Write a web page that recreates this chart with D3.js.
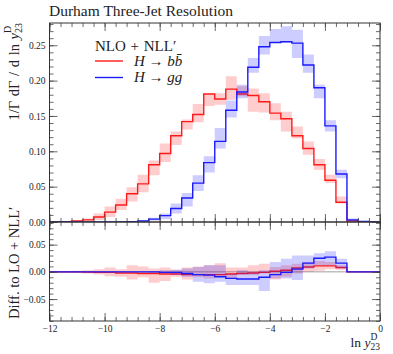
<!DOCTYPE html>
<html>
<head>
<meta charset="utf-8">
<script src="https://cdn.jsdelivr.net/npm/d3@7"></script>
<style>
body { margin: 0; background: #fff; }
svg text { font-family: "Liberation Serif", "DejaVu Serif", serif; fill: #222; }
</style>
</head>
<body>
<div id="chart"></div>
<script>
// Durham three-jet resolution, NLO + NLL' for H -> bb and H -> gg

// bin edges in ln y23
const binEdges = [-12.0, -11.6, -11.2, -10.8, -10.4, -10.0, -9.6, -9.2, -8.8, -8.4, -8.0,
    -7.6, -7.2, -6.8, -6.4, -6.0, -5.6, -5.2, -4.8, -4.4, -4.0,
    -3.6, -3.2, -2.8, -2.4, -2.0, -1.6, -1.2, -0.8, -0.4, 0.0];

// H -> bb (red)
const bbCentral = [0, 0.0003, 0.0014, 0.003, 0.007, 0.014, 0.024, 0.040, 0.054, 0.081, 0.097, 0.122, 0.142, 0.152, 0.181,
    0.174, 0.188, 0.181, 0.179, 0.170, 0.154, 0.146, 0.122, 0.104, 0.081, 0.059, 0.028, 0.0015, 0, 0];
const bbLow = [0, 0.0001, 0.0008, 0.002, 0.003, 0.007, 0.017, 0.029, 0.042, 0.066, 0.085, 0.109, 0.131, 0.141, 0.164,
    0.166, 0.173, 0.178, 0.156, 0.155, 0.144, 0.128, 0.118, 0.095, 0.074, 0.055, 0.026, 0.001, 0, 0];
const bbHigh = [0, 0.0005, 0.002, 0.005, 0.012, 0.022, 0.033, 0.049, 0.067, 0.087, 0.111, 0.128, 0.145, 0.167, 0.181,
    0.182, 0.206, 0.192, 0.189, 0.182, 0.168, 0.156, 0.135, 0.114, 0.089, 0.067, 0.036, 0.003, 0, 0];

// H -> gg (blue)
const ggCentral = [0, 0, 0, 0, 0, 0, 0.0002, 0.0005, 0.0014, 0.004, 0.009, 0.019, 0.034, 0.055, 0.084,
    0.114, 0.158, 0.184, 0.219, 0.248, 0.254, 0.255, 0.253, 0.222, 0.190, 0.136, 0.068, 0.003, 0.0008, 0];
const ggLow = [0, 0, 0, 0, 0, 0, 0.0001, 0.0003, 0.001, 0.002, 0.004, 0.012, 0.022, 0.044, 0.070,
    0.104, 0.148, 0.175, 0.211, 0.237, 0.254, 0.254, 0.232, 0.211, 0.175, 0.128, 0.062, 0.001, 0.0004, 0];
const ggHigh = [0, 0, 0, 0, 0, 0, 0.0004, 0.0008, 0.002, 0.006, 0.012, 0.026, 0.041, 0.066, 0.093,
    0.133, 0.172, 0.194, 0.232, 0.263, 0.273, 0.277, 0.272, 0.237, 0.194, 0.144, 0.074, 0.005, 0.0012, 0];

// difference to LO + NLL'
const bbDiff = [0, 0, 0, -0.0005, -0.001, -0.001, -0.002, -0.002, -0.003, -0.003, -0.004, -0.004, -0.005, -0.005, -0.005,
    -0.005, -0.004, -0.003, -0.002, -0.001, 0.001, 0.003, 0.007, 0.009, 0.011, 0.011, 0.008, 0, 0, 0];
const bbDiffLow = [0, -0.001, -0.002, -0.003, -0.005, -0.008, -0.009, -0.014, -0.010, -0.020, -0.017, -0.009, -0.014, -0.010, -0.012,
    -0.008, -0.012, -0.005, -0.006, -0.003, -0.014, -0.009, -0.003, 0.0, 0.002, 0.005, 0.004, 0, 0, 0];
const bbDiffHigh = [0, 0.001, 0.002, 0.003, 0.005, 0.008, 0.005, 0.012, 0.010, 0.006, 0.008, 0.004, 0.008, 0.010, 0.012,
    0.016, 0.008, 0.008, 0.012, 0.015, 0.009, 0.012, 0.015, 0.018, 0.020, 0.018, 0.012, 0, 0, 0];

const ggDiff = [0, 0, 0, 0, 0, 0, 0, 0, 0, 0, -0.001, -0.001, -0.003, -0.005, -0.006,
    -0.009, -0.012, -0.013, -0.013, -0.010, -0.005, -0.001, 0.005, 0.016, 0.025, 0.027, 0.016, 0, 0, 0];
const ggDiffLow = [0, 0, 0, 0, 0, 0, 0, 0, 0, -0.001, -0.003, -0.006, -0.009, -0.018, -0.021,
    -0.018, -0.024, -0.024, -0.024, -0.035, -0.012, -0.012, -0.015, 0.006, 0.012, 0.012, 0.006, 0, 0, 0];
const ggDiffHigh = [0, 0, 0, 0, 0, 0, 0, 0, 0, 0.001, 0.003, 0.004, 0.006, 0.009, 0.012,
    0.012, -0.003, 0.003, 0.0, 0.003, 0.018, 0.024, 0.030, 0.030, 0.034, 0.038, 0.024, 0, 0, 0];

const xTicks = [-12, -10, -8, -6, -4, -2, 0];
const mainTicks = [0, 0.05, 0.10, 0.15, 0.20, 0.25];
const diffTicks = [-0.05, 0, 0.05];

const red = '#ff1a1a';
const blue = '#1a1aff';

const width = 393, height = 354;
const left = 49.5, right = 380;
const mainTop = 23, mainBottom = 222, diffBottom = 321;

const svg = d3.select('#chart').append('svg')
    .attr('width', width)
    .attr('height', height);

const x = d3.scaleLinear().domain([-12, 0]).range([left, right]);
const yMain = d3.scaleLinear().domain([0, 0.2815]).range([mainBottom, mainTop]);
const yDiff = d3.scaleLinear().domain([-0.0903, 0.0916]).range([diffBottom, mainBottom]);

// clip paths
const defs = svg.append('defs');
defs.append('clipPath').attr('id', 'clipMain').append('rect')
    .attr('x', left).attr('y', mainTop).attr('width', right - left).attr('height', mainBottom - mainTop);
defs.append('clipPath').attr('id', 'clipDiff').append('rect')
    .attr('x', left).attr('y', mainBottom).attr('width', right - left).attr('height', diffBottom - mainBottom);

function binPoints(vals) {
    const pts = vals.map((v, i) => [binEdges[i], v]);
    pts.push([binEdges[binEdges.length - 1], vals[vals.length - 1]]);
    return pts;
}

function drawHist(g, yScale, central, low, high, color) {
    const bandPts = low.map((v, i) => ({e: binEdges[i], lo: v, hi: high[i]}));
    bandPts.push({e: binEdges[binEdges.length - 1], lo: low[low.length - 1], hi: high[high.length - 1]});
    const area = d3.area()
        .curve(d3.curveStepAfter)
        .x(d => x(d.e))
        .y0(d => yScale(d.lo))
        .y1(d => yScale(d.hi));
    g.append('path')
        .attr('d', area(bandPts))
        .attr('fill', color)
        .attr('fill-opacity', 0.22)
        .attr('stroke', 'none');

    const line = d3.line()
        .curve(d3.curveStepAfter)
        .x(d => x(d[0]))
        .y(d => yScale(d[1]));
    g.append('path')
        .attr('d', line(binPoints(central)))
        .attr('fill', 'none')
        .attr('stroke', color)
        .attr('stroke-width', 1.4);
}

// main panel
const mainG = svg.append('g').attr('clip-path', 'url(#clipMain)');
drawHist(mainG, yMain, bbCentral, bbLow, bbHigh, red);
drawHist(mainG, yMain, ggCentral, ggLow, ggHigh, blue);

// ratio panel
const diffG = svg.append('g').attr('clip-path', 'url(#clipDiff)');
diffG.append('line')
    .attr('x1', left).attr('x2', right)
    .attr('y1', yDiff(0)).attr('y2', yDiff(0))
    .attr('stroke', '#888').attr('stroke-width', 0.8);
drawHist(diffG, yDiff, bbDiff, bbDiffLow, bbDiffHigh, red);
drawHist(diffG, yDiff, ggDiff, ggDiffLow, ggDiffHigh, blue);

// axes helper
const major = 8, minor = 4;
const xMinor = d3.range(-12, 0.001, 0.4);
const yMainMinor = d3.range(0, 0.281, 0.01);
const yDiffMinor = d3.range(-0.09, 0.091, 0.01);

function addAxis(axisFn, scale, values, size, pos, labels, fmt, pad) {
    const ax = axisFn(scale).tickValues(values).tickSize(-size)
        .tickPadding(pad || 4)
        .tickFormat(labels ? fmt : '');
    const g = svg.append('g').attr('transform', pos).call(ax);
    g.select('.domain').remove();
    g.selectAll('line').attr('stroke', '#444').attr('stroke-width', 0.8);
    g.selectAll('text').attr('font-size', 9.5).attr('fill', '#333')
        .style('font-family', '"Liberation Serif", serif');
    return g;
}

const fmt2 = d3.format('.2f');
const fmtX = d3.format('d');

// main panel ticks
addAxis(d3.axisTop, x, xTicks, major, `translate(0,${mainTop})`, false);
addAxis(d3.axisTop, x, xMinor, minor, `translate(0,${mainTop})`, false);
addAxis(d3.axisBottom, x, xTicks, major, `translate(0,${mainBottom})`, false);
addAxis(d3.axisBottom, x, xMinor, minor, `translate(0,${mainBottom})`, false);
addAxis(d3.axisLeft, yMain, mainTicks, major, `translate(${left},0)`, true, fmt2, 4);
addAxis(d3.axisLeft, yMain, yMainMinor, minor, `translate(${left},0)`, false);
addAxis(d3.axisRight, yMain, mainTicks, major, `translate(${right},0)`, false);
addAxis(d3.axisRight, yMain, yMainMinor, minor, `translate(${right},0)`, false);

// ratio panel ticks
addAxis(d3.axisTop, x, xTicks, major, `translate(0,${mainBottom})`, false);
addAxis(d3.axisTop, x, xMinor, minor, `translate(0,${mainBottom})`, false);
addAxis(d3.axisBottom, x, xTicks, major, `translate(0,${diffBottom})`, true, fmtX, 4);
addAxis(d3.axisBottom, x, xMinor, minor, `translate(0,${diffBottom})`, false);
addAxis(d3.axisLeft, yDiff, diffTicks, major, `translate(${left},0)`, true, fmt2, 4);
addAxis(d3.axisLeft, yDiff, yDiffMinor, minor, `translate(${left},0)`, false);
addAxis(d3.axisRight, yDiff, diffTicks, major, `translate(${right},0)`, false);
addAxis(d3.axisRight, yDiff, yDiffMinor, minor, `translate(${right},0)`, false);

// frames
svg.append('rect')
    .attr('x', left).attr('y', mainTop)
    .attr('width', right - left).attr('height', mainBottom - mainTop)
    .attr('fill', 'none').attr('stroke', '#333').attr('stroke-width', 1);
svg.append('rect')
    .attr('x', left).attr('y', mainBottom)
    .attr('width', right - left).attr('height', diffBottom - mainBottom)
    .attr('fill', 'none').attr('stroke', '#333').attr('stroke-width', 1);

// title
svg.append('text')
    .attr('x', left - 0.5).attr('y', 16)
    .attr('font-size', 15.5)
    .text('Durham Three-Jet Resolution');

// legend
const legend = svg.append('g');
legend.append('text')
    .attr('x', 95).attr('y', 50.5)
    .attr('font-size', 15)
    .attr('word-spacing', 1)
    .text('NLO + NLL\u2032');
const legendItems = [
    {color: red, y: 61, parts: ['H', ' \u2192 ', 'b', 'b\u0304']},
    {color: blue, y: 77.5, parts: ['H', ' \u2192 ', 'g', 'g']}
];
legendItems.forEach(item => {
    legend.append('line')
        .attr('x1', 95).attr('x2', 123)
        .attr('y1', item.y).attr('y2', item.y)
        .attr('stroke', item.color).attr('stroke-width', 1.4);
    const t = legend.append('text')
        .attr('x', 134).attr('y', item.y + 4.8)
        .attr('font-size', 15);
    item.parts.forEach((p, i) => {
        t.append('tspan')
            .attr('font-style', i === 1 ? 'normal' : 'italic')
            .text(p);
    });
});

// y label, main panel
const yLab = svg.append('text')
    .attr('transform', `translate(19,${mainTop}) rotate(-90)`)
    .attr('text-anchor', 'end')
    .attr('font-size', 14.5)
    .attr('word-spacing', 1);
yLab.append('tspan').text('1/\u0393 d\u0393 / d ln ');
yLab.append('tspan').attr('font-style', 'italic').text('y');
yLab.append('tspan').attr('font-size', 10).attr('dy', 3).text('23');
yLab.append('tspan').attr('font-size', 10).attr('dx', -10).attr('dy', -11).text('D');

// y label, ratio panel
svg.append('text')
    .attr('transform', `translate(19,319) rotate(-90)`)
    .attr('text-anchor', 'start')
    .attr('font-size', 14.5)
    .text('Diff. to LO + NLL\u2032');

// x label
const xLab = svg.append('text')
    .attr('x', right).attr('y', 347)
    .attr('text-anchor', 'end')
    .attr('font-size', 13.5);
xLab.append('tspan').text('ln ');
xLab.append('tspan').attr('font-style', 'italic').text('y');
xLab.append('tspan').attr('font-size', 9.5).attr('dy', 3).text('23');
xLab.append('tspan').attr('font-size', 9.5).attr('dx', -9.5).attr('dy', -10).text('D');
</script>
</body>
</html>
